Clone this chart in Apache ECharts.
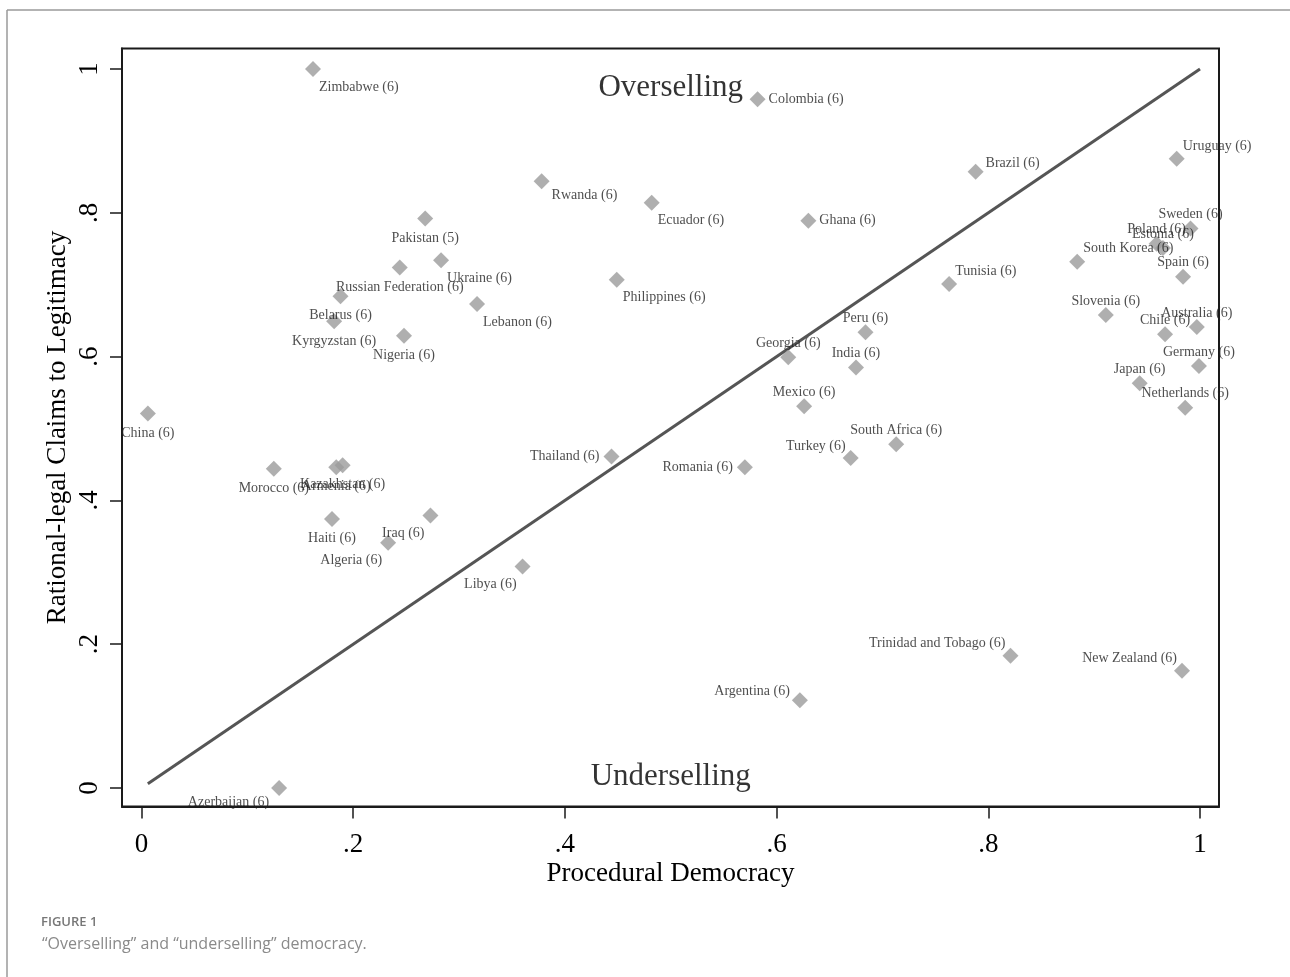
<!DOCTYPE html>
<html><head><meta charset="utf-8">
<script src="https://cdn.jsdelivr.net/npm/echarts@6/dist/echarts.min.js"></script>
<style>html,body{margin:0;padding:0;background:#fff;}#chart{width:1290px;height:977px;}</style>
</head><body><div id="chart"></div>
<script>
const countries = ['Zimbabwe','Colombia','Rwanda','Ecuador','Ghana','Pakistan','Russian Federation','Ukraine','Belarus','Kyrgyzstan','Lebanon','Nigeria','Philippines','China','Morocco','Armenia','Kazakhstan','Haiti','Iraq','Algeria','Libya','Thailand','Romania','Georgia','Peru','India','Mexico','South Africa','Turkey','Brazil','Tunisia','Uruguay','South Korea','Sweden','Poland','Estonia','Spain','Slovenia','Chile','Australia','Germany','Japan','Netherlands','Trinidad and Tobago','New Zealand','Argentina','Azerbaijan'];
const observations = [6,6,6,6,6,5,6,6,6,6,6,6,6,6,6,6,6,6,6,6,6,6,6,6,6,6,6,6,6,6,6,6,6,6,6,6,6,6,6,6,6,6,6,6,6,6,6];
const proceduralDemocracy = [0.162,0.582,0.378,0.482,0.630,0.268,0.244,0.283,0.188,0.182,0.317,0.248,0.449,0.006,0.125,0.184,0.190,0.180,0.273,0.233,0.360,0.444,0.570,0.611,0.684,0.675,0.626,0.713,0.670,0.788,0.763,0.978,0.884,0.991,0.959,0.965,0.984,0.911,0.967,0.997,0.999,0.943,0.986,0.821,0.983,0.622,0.130];
const rationalLegal = [1.000,0.958,0.844,0.814,0.789,0.792,0.724,0.734,0.684,0.649,0.673,0.629,0.707,0.521,0.444,0.446,0.449,0.374,0.379,0.341,0.308,0.461,0.446,0.599,0.634,0.585,0.531,0.478,0.459,0.857,0.701,0.875,0.732,0.778,0.757,0.751,0.711,0.658,0.631,0.641,0.587,0.563,0.529,0.184,0.163,0.122,0.000];
// Stata-style clock position of each marker label
const labelClock = [5,3,4,5,3,6,6,5,6,6,5,6,5,6,6,6,6,6,7,7,7,9,9,12,12,12,12,12,11,2,1,1,1,12,12,12,12,12,12,12,12,12,12,11,11,10,8];

const xTickValues = [0,0.2,0.4,0.6,0.8,1];
const xTickLabels = ['0','.2','.4','.6','.8','1'];
const yTickValues = [0,0.2,0.4,0.6,0.8,1];
const yTickLabels = ['0','.2','.4','.6','.8','1'];

const regionText = ['Overselling','Underselling'];
const regionX = [0.5,0.5];
const regionY = [0.974,0.015];

const xTitle = 'Procedural Democracy';
const yTitle = 'Rational-legal Claims to Legitimacy';
const figLabel = 'FIGURE 1';
const figCaption = '\u201COverselling\u201D and \u201Cunderselling\u201D democracy.';

const SERIF = '"Liberation Serif","Times New Roman",serif';

const clockStyle = {
  12:{align:'center',offset:[0,-14]},
  1:{align:'left',offset:[6,-13]},
  2:{align:'left',offset:[10,-8]},
  3:{align:'left',offset:[11,0]},
  4:{align:'left',offset:[10,14]},
  5:{align:'left',offset:[6,18]},
  6:{align:'center',offset:[0,19.5]},
  7:{align:'right',offset:[-6,18]},
  8:{align:'right',offset:[-10,14]},
  9:{align:'right',offset:[-12,0]},
  10:{align:'right',offset:[-10,-9]},
  11:{align:'right',offset:[-5,-12]}
};

const pointData = countries.map((c,i)=>{
  const cs = clockStyle[labelClock[i]];
  return {
    name: c,
    value: [proceduralDemocracy[i], rationalLegal[i]],
    label: {
      show: true,
      formatter: c + ' (' + observations[i] + ')',
      position: ['50%','50%'],
      align: cs.align,
      verticalAlign: 'middle',
      offset: cs.offset
    }
  };
});

const xMinData = Math.min(...proceduralDemocracy);
const diagData = [[xMinData,xMinData],[1,1]];

const regionData = regionText.map((t,i)=>({name:t,value:[regionX[i],regionY[i]]}));

function tickFmt(vals, labs){
  return function(v){
    const k = vals.findIndex(a=>Math.abs(a-v)<1e-9);
    return k>=0 ? labs[k] : '';
  };
}

const chart = echarts.init(document.getElementById('chart'), null, {renderer:'canvas'});
chart.setOption({
  animation:false,
  backgroundColor:'#fff',
  grid:{left:122,top:48.5,width:1097,height:758,show:true,borderColor:'#1a1a1a',borderWidth:2,backgroundColor:'#fff'},
  xAxis:{
    type:'value',
    min:-0.01842, max:1.01795,
    splitLine:{show:false},
    axisLine:{show:true,onZero:false,lineStyle:{color:'#1a1a1a',width:2}},
    axisTick:{show:true,inside:false,customValues:xTickValues,length:12,lineStyle:{color:'#1a1a1a',width:1.5}},
    axisLabel:{show:true,inside:false,customValues:xTickValues,formatter:tickFmt(xTickValues,xTickLabels),fontFamily:SERIF,fontSize:27,color:'#000',margin:25},
    name:xTitle,nameLocation:'middle',nameGap:54,nameMoveOverlap:false,
    nameTextStyle:{fontFamily:SERIF,fontSize:27,color:'#000'}
  },
  yAxis:{
    type:'value',
    min:-0.02573, max:1.02851,
    splitLine:{show:false},
    axisLine:{show:true,onZero:false,lineStyle:{color:'#1a1a1a',width:2}},
    axisTick:{show:true,inside:false,customValues:yTickValues,length:12,lineStyle:{color:'#1a1a1a',width:1.5}},
    axisLabel:{show:true,inside:false,customValues:yTickValues,formatter:tickFmt(yTickValues,yTickLabels),rotate:90,fontFamily:SERIF,fontSize:27,color:'#000',margin:19},
    name:yTitle,nameLocation:'middle',nameGap:51,nameRotate:90,nameMoveOverlap:false,
    nameTextStyle:{fontFamily:SERIF,fontSize:27,color:'#000'}
  },
  series:[
    {
      type:'line',
      data:diagData,
      showSymbol:false,
      symbol:'none',
      lineStyle:{color:'#555',width:3},
      z:1,
      silent:true
    },
    {
      type:'scatter',
      data:pointData,
      symbol:'diamond',
      symbolSize:16,
      itemStyle:{color:'#9b9b9b'},
      label:{fontFamily:SERIF,fontSize:14,color:'#222'},
      z:3,
      clip:false
    },
    {
      type:'scatter',
      data:regionData,
      symbolSize:0,
      itemStyle:{color:'transparent'},
      label:{show:true,formatter:'{b}',position:['50%','50%'],align:'center',verticalAlign:'middle',fontFamily:SERIF,fontSize:31,color:'#000'},
      z:2,
      silent:true
    }
  ],
  graphic:[
    {type:'line',shape:{x1:7,y1:10,x2:1290,y2:10},style:{stroke:'#9a9a9a',lineWidth:1.5},silent:true},
    {type:'line',shape:{x1:7,y1:10,x2:7,y2:977},style:{stroke:'#9a9a9a',lineWidth:1.5},silent:true},
    {type:'text',left:41,top:916,style:{text:figLabel,font:'600 13px "Open Sans", sans-serif',fill:'#777'},silent:true},
    {type:'text',left:42,top:936,style:{text:figCaption,font:'16px "Open Sans", sans-serif',fill:'#8a8a8a'},silent:true}
  ]
});
</script>
</body></html>
